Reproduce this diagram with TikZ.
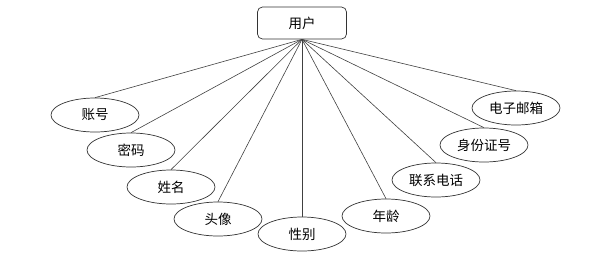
\documentclass[tikz,border=0pt]{standalone}
\usepackage{fontspec}
\newfontfamily\cjk{Noto Sans CJK SC}
\usetikzlibrary{shapes.geometric}
\tikzset{
  entbox/.style={draw=black!80, rounded corners=5pt, line width=0.7pt, minimum width=89pt, minimum height=32pt, inner sep=0pt, font=\cjk\fontsize{13.5pt}{15pt}\selectfont},
  attrell/.style={ellipse, draw=black!80, line width=0.7pt, minimum width=88pt, minimum height=34pt, inner sep=0pt, font=\cjk\fontsize{13.5pt}{15pt}\selectfont},
  link/.style={line width=0.6pt, black!75},
}

\begin{document}
\begin{tikzpicture}[x=1pt, y=-1pt]
    \useasboundingbox (0,0) rectangle (608,266);
    % entity
    \node[entbox] (user) at (302,23) {用户};
    % attributes, left to right
    \node[attrell] (acct)   at (95,115)  {账号};
    \node[attrell] (pwd)    at (131,150) {密码};
    \node[attrell] (name)   at (171,187) {姓名};
    \node[attrell] (avatar) at (218,219) {头像};
    \node[attrell] (gender) at (302,234) {性别};
    \node[attrell] (age)    at (386,216) {年龄};
    \node[attrell] (phone)  at (436,180) {联系电话};
    \node[attrell] (idno)   at (484,145) {身份证号};
    \node[attrell] (email)  at (516,108) {电子邮箱};
    % links
    \foreach \a in {acct,pwd,name,avatar,gender,age,phone,idno,email}
      \draw[link] (user.south) -- (\a.north);
  \end{tikzpicture}
\end{document}
